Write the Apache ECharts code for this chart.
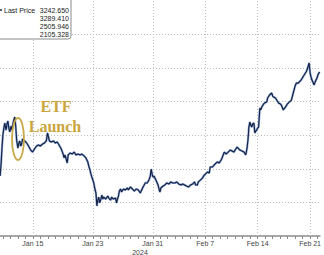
<!DOCTYPE html>
<html><head><meta charset="utf-8">
<script src="https://cdn.jsdelivr.net/npm/echarts@6/dist/echarts.min.js"></script>
<style>html,body{margin:0;padding:0;background:#fff}#c{width:324px;height:255px}</style>
</head><body><div id="c"></div>
<script>
// hours since 2024-01-10 12:00
var hours = [3,6,9,12,15,18,22,25,28,31,34,38,41,44,47,50,53,56,60,63,66,69,72,75,82,88,94,101,107,113,
120,126,132,139,145,151,155,158,161,167,174,180,186,192,199,205,208,211,218,221,227,234,240,246,253,259,265,272,278,284,
287,291,294,297,300,303,306,310,313,316,319,322,325,329,332,335,341,348,351,357,360,366,373,376,379,382,385,389,392,398,
404,411,414,420,427,433,439,446,452,455,461,468,474,480,484,487,490,493,496,502,509,512,515,518,525,531,537,544,550,556,
563,569,575,582,588,594,600,607,613,620,626,629,635,638,645,651,657,664,667,673,676,683,689,695,699,705,711,714,721,727,
730,737,740,746,752,756,762,768,771,778,784,790,794,797,800,803,806,809,812,816,819,822,825,828,831,835,838,841,847,850,
857,860,866,873,876,879,885,891,895,901,904,910,917,923,926,933,936,942,948,952,958,961,967,971,977,983,986,990,993,996,
999,1002,1009,1012,1018,1021,1024,1027];
var prices = [2357,2423,2524,2602,2643,2673,2631,2667,2685,2643,2620,2655,2631,2667,2691,2709,2655,2572,2524,2554,2566,2536,2548,2578,2566,2554,2536,2512,2500,2518,
2536,2542,2536,2548,2554,2566,2614,2590,2566,2560,2566,2554,2560,2542,2518,2488,2465,2483,2435,2483,2494,2488,2500,2483,2488,2483,2488,2477,2465,2441,
2417,2393,2369,2351,2334,2316,2286,2256,2179,2214,2232,2197,2214,2244,2220,2232,2220,2238,2226,2214,2232,2220,2226,2197,2220,2238,2268,2280,2262,2280,
2274,2286,2274,2292,2280,2268,2280,2274,2256,2268,2292,2316,2316,2334,2357,2399,2369,2351,2357,2334,2304,2280,2262,2286,2298,2304,2316,2310,2322,2316,
2316,2322,2310,2304,2310,2304,2298,2292,2304,2310,2322,2304,2304,2322,2334,2345,2363,2375,2381,2375,2411,2411,2423,2435,2441,2435,2453,2465,2500,2488,
2494,2506,2512,2506,2500,2512,2530,2518,2512,2506,2500,2483,2524,2572,2649,2679,2661,2649,2667,2673,2614,2625,2631,2643,2649,2762,2751,2768,2786,2792,
2798,2822,2840,2852,2834,2828,2822,2804,2792,2786,2780,2751,2768,2786,2792,2804,2810,2852,2894,2911,2911,2917,2929,2941,2959,2977,2989,3013,3031,2971,
2947,2929,2900,2917,2941,2959,2971,2977];
var tickLabels = ['Jan 15','Jan 23','Jan 31','Feb 7','Feb 14','Feb 21'];
var tickHours = [108,300,492,660,828,996];
var dayTickHours = [12,36,60,84,108,132,156,180,204,228,252,276,300,324,348,372,396,420,444,468,492,516,540,564,588,612,636,660,684,708,732,756,780,804,828,852,876,900,924,948,972,996,1020];
var yearLabel = '2024';
var legendLabels = ['Last Price','','',''];
var legendValues = ['3242.650','3289.410','2505.946','2105.328'];
var annotation = ['ETF','Launch'];

var data = hours.map(function(h,i){return [h, prices[i]];});
var chart = echarts.init(document.getElementById('c'), null, {renderer:'svg'});
var font = 'Liberation Sans';
var graphics = [
  {type:'rect', shape:{x:-6,y:-6,width:77,height:45,r:3}, style:{fill:'#fff',stroke:'#8a8a8a',lineWidth:1}, z:100},
  {type:'line', shape:{x1:-2,y1:10,x2:2,y2:10}, style:{stroke:'#1b2a4e',lineWidth:1.5}, z:101}
];
legendValues.forEach(function(v,i){
  graphics.push({type:'text', x:69, y:10+i*8, style:{text:v, align:'right', verticalAlign:'middle', font:'7px '+font, fill:'#222'}, z:101});
  if (legendLabels[i]) graphics.push({type:'text', x:4, y:10+i*8, style:{text:legendLabels[i], align:'left', verticalAlign:'middle', font:'7px '+font, fill:'#222'}, z:101});
});
graphics.push({type:'text', x:56, y:106, style:{text:annotation[0], align:'center', verticalAlign:'middle', font:'bold 16px "Liberation Serif"', fill:'#caa53d'}, z:50});
graphics.push({type:'text', x:55, y:126, style:{text:annotation[1], align:'center', verticalAlign:'middle', font:'bold 16px "Liberation Serif"', fill:'#caa53d'}, z:50});
graphics.push({type:'ellipse', shape:{cx:18,cy:139,rx:6,ry:21}, style:{fill:'none',stroke:'#c9a84a',lineWidth:1.8}, z:50});
graphics.push({type:'text', x:140, y:252, style:{text:yearLabel, align:'center', verticalAlign:'middle', font:'7px '+font, fill:'#444'}, z:50});

chart.setOption({
  animation:false,
  grid:{left:0,right:0,top:1,bottom:19},
  xAxis:{type:'value', min:2.7, max:1027.5,
    axisLine:{show:true, onZero:false, lineStyle:{color:'#8c8c8c',width:1.5}},
    axisTick:{show:true, customValues:dayTickHours, length:3, lineStyle:{color:'#8c8c8c'}},
    axisLabel:{show:true, customValues:tickHours, margin:4, fontSize:7, fontFamily:font, color:'#444',
      formatter:function(v){var i=tickHours.indexOf(Math.round(v));return i>=0?tickLabels[i]:'';}},
    splitLine:{show:false}},
  yAxis:{type:'value', min:2000, max:3400, interval:200,
    axisLine:{show:false}, axisTick:{show:false}, axisLabel:{show:false},
    splitLine:{show:true, showMaxLine:false, showMinLine:false, lineStyle:{color:'#bdbdbd', type:[1,2], width:1}}},
  graphic:graphics,
  series:[
    {type:'line', data:data, showSymbol:false, z:2, lineStyle:{color:'#8aa5d8', width:2.2},
     markLine:{silent:true, symbol:'none', z:1, label:{show:false}, lineStyle:{color:'#bdbdbd', type:[1,2], width:1},
       data:tickHours.map(function(h){return {xAxis:h};})}},
    {type:'line', data:data, showSymbol:false, z:3, lineStyle:{color:'#14203f', width:1.1}}
  ]
});
</script></body></html>
